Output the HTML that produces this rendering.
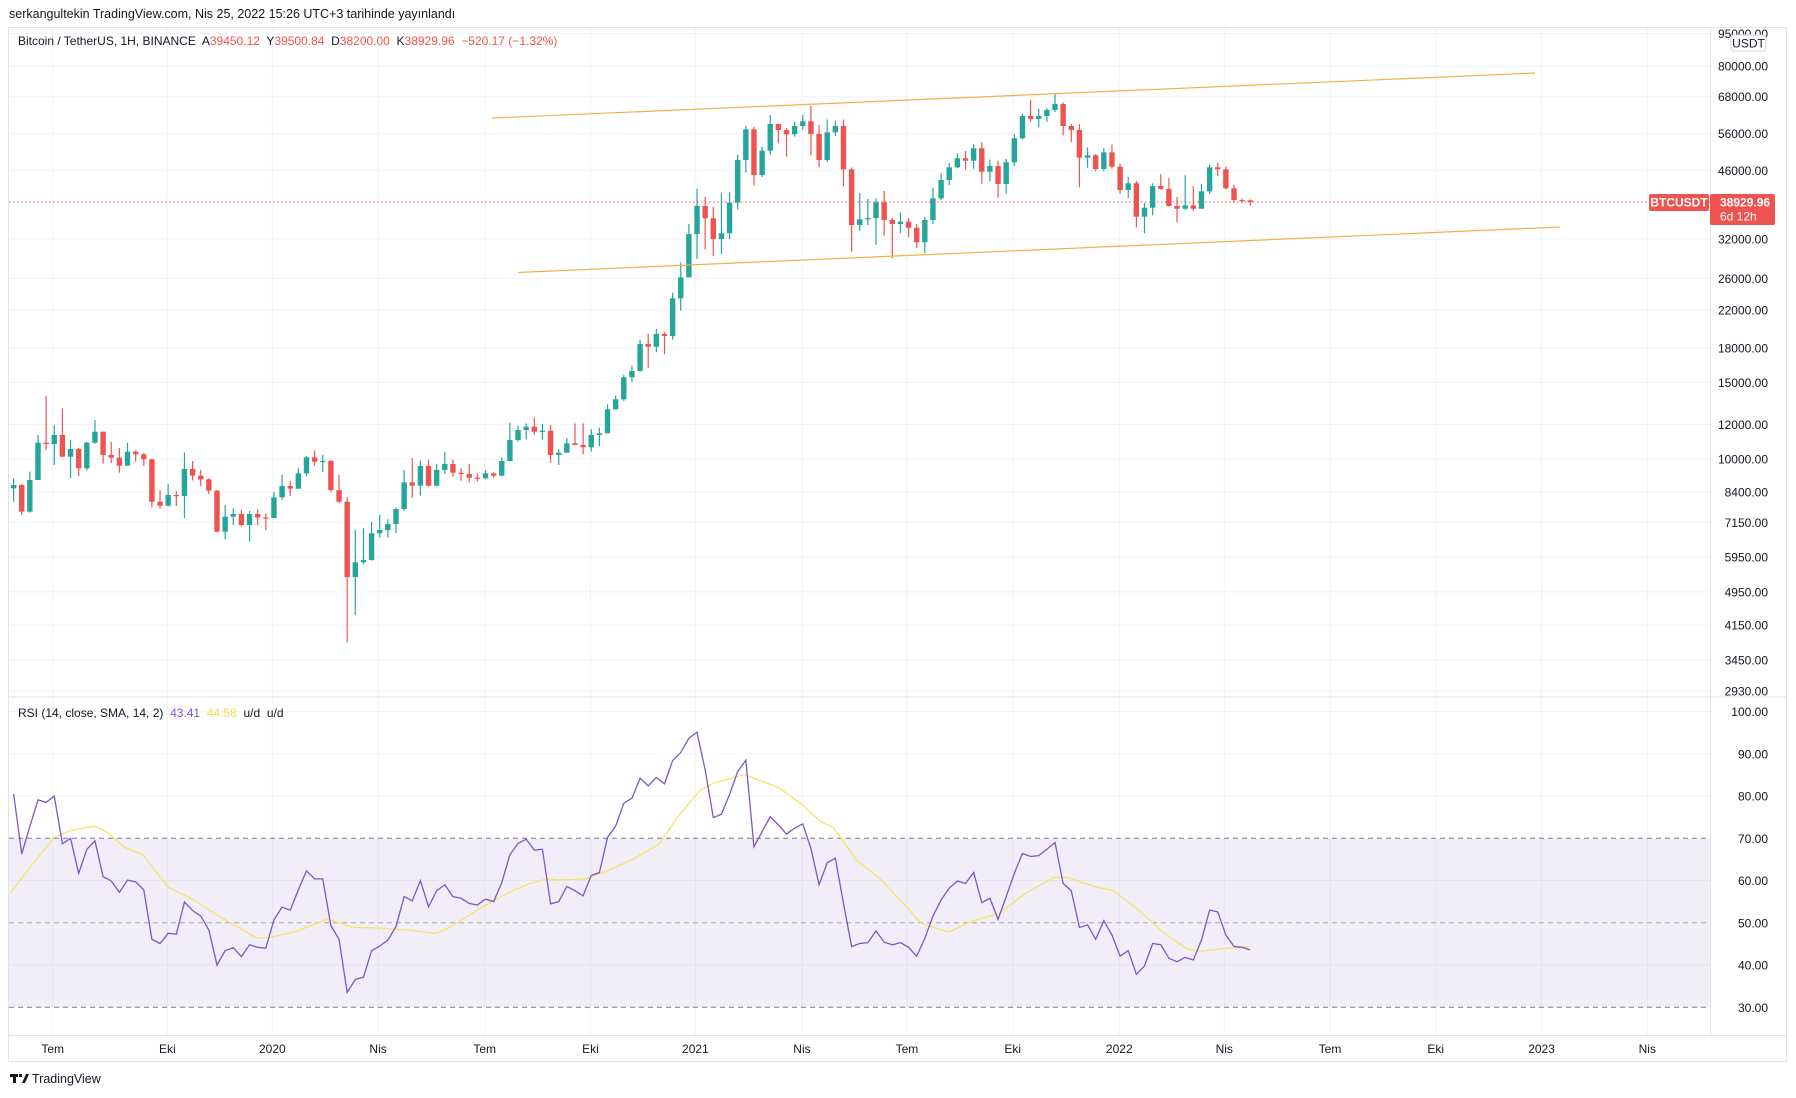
<!DOCTYPE html>
<html><head><meta charset="utf-8"><style>
html,body{margin:0;padding:0;background:#fff;}
svg{display:block;font-family:"Liberation Sans",sans-serif;}
.pre{white-space:pre;}
</style></head><body>
<svg id="chart" width="1796" height="1098" viewBox="0 0 1796 1098" xmlns="http://www.w3.org/2000/svg">
<rect x="0" y="0" width="1796" height="1098" fill="#ffffff"/>
<text x="9" y="18" font-size="12.5" fill="#131722">serkangultekin TradingView.com, Nis 25, 2022 15:26 UTC+3 tarihinde yayınlandı</text>
<rect x="8.5" y="27.5" width="1778" height="1034" fill="none" stroke="#e0e3eb"/>
<g id="grid"></g>
<rect x="9" y="838.3" width="1701" height="169" fill="#7e57c2" fill-opacity="0.1"/>
<g id="rsilevels"></g>
<g id="candles"></g>
<g id="channel"></g>
<g id="rsi"></g>
<line x1="9" y1="202" x2="1710" y2="202" stroke="#ef5350" stroke-width="1" stroke-dasharray="1.5,2.5"/>
<line x1="9" y1="697" x2="1786" y2="697" stroke="#e0e3eb"/>
<line x1="1710.5" y1="28" x2="1710.5" y2="1035" stroke="#e0e3eb"/>
<line x1="9" y1="1035.5" x2="1786" y2="1035.5" stroke="#e0e3eb"/>
<g id="axes"></g>
<rect x="1731" y="35" width="35" height="16" rx="3" fill="#fff" stroke="#d1d4dc"/>
<text x="1748.5" y="47.5" font-size="12" text-anchor="middle" fill="#131722">USDT</text>
<rect x="1649" y="194" width="60" height="17" rx="2" fill="#ef5350"/>
<text x="1679" y="206.5" font-size="12" font-weight="bold" text-anchor="middle" fill="#fff">BTCUSDT</text>
<rect x="1710" y="194" width="65" height="31" rx="2" fill="#ef5350"/>
<text x="1720" y="206.5" font-size="12" font-weight="bold" fill="#fff">38929.96</text>
<text x="1720" y="220.5" font-size="12" fill="#fff">6d 12h</text>
<text class="pre" xml:space="preserve" x="18" y="45" font-size="12" fill="#131722">Bitcoin / TetherUS, 1H, BINANCE  A<tspan fill="#ef5350">39450.12</tspan>  Y<tspan fill="#ef5350">39500.84</tspan>  D<tspan fill="#ef5350">38200.00</tspan>  K<tspan fill="#ef5350">38929.96</tspan>  <tspan fill="#ef5350">−520.17 (−1.32%)</tspan></text>
<text class="pre" xml:space="preserve" x="18" y="717" font-size="12" fill="#131722">RSI (14, close, SMA, 14, 2)  <tspan fill="#7e57c2">43.41</tspan>  <tspan fill="#f5dc4f">44.58</tspan>  u/d  u/d</text>
<g>
<rect x="10" y="1074" width="8" height="3" fill="#131722"/><rect x="13" y="1074" width="3" height="9" fill="#131722"/>
<rect x="19" y="1074" width="3" height="3" fill="#131722"/><polygon points="22,1083 26,1074 29,1074 25,1083" fill="#131722"/>
<text x="32" y="1083" font-size="12.5" fill="#131722">TradingView</text>
</g>
</svg>
<script>
const closes=[8714,7567,8948,10902,10825,11354,10122,10543,9520,10902,11556,10214,10069,9653,10395,10250,9984,7977,7811,8265,8221,9484,9155,8978,8455,6807,7370,7475,7053,7475,7342,7320,8165,8668,8547,9268,10090,9858,9900,8480,7977,5355,5790,5860,6750,6868,7090,7675,8840,8683,9636,8683,9436,9739,9302,9236,9057,9030,9268,9155,9895,11058,11658,11865,11553,11615,10214,10339,10866,10769,10638,11354,11457,13008,13717,15408,15932,18377,18118,19375,19170,23400,26150,32880,38140,35740,32030,33010,38810,48650,57220,44940,51100,58840,57020,55730,58240,59700,55840,48650,56330,58240,46310,34490,35540,35790,38890,35420,34670,35110,34000,31480,35420,39720,43760,46800,49090,48460,51760,45720,47120,42850,48070,54570,61400,60440,61400,63400,65420,58240,57020,49240,49880,46380,50660,46970,41500,43010,36040,37800,42390,41730,38140,37590,38270,37590,41210,46800,46310,41880,39360,39280,38930];
const highs=[9030,8750,9351,11354,13950,11970,13070,11058,10600,10960,12290,11556,10960,10600,10900,10470,10330,10010,8480,8750,8440,10350,9890,9450,9030,8480,7830,7700,7640,7600,7670,7500,8400,9200,8900,9520,10160,10470,10230,9950,9200,8165,6870,6930,7180,7450,7270,7740,9440,10050,9920,9970,9740,10390,9970,9520,9740,9270,9440,9320,10090,12130,11920,12080,12470,12040,11970,10530,11180,12080,12080,11700,11800,13350,14000,15600,16400,18800,19400,19900,19600,24100,28300,34700,41800,40000,38000,40900,41000,50000,58240,58000,52200,61700,58600,57600,59600,61800,64800,58540,60300,59900,60300,46800,40830,39600,39700,41290,35800,36800,35800,34700,36000,42000,45300,47900,50400,51000,52900,53400,48800,48500,48900,55800,62200,66900,63800,64000,69000,66000,58800,58800,52000,50200,51800,52800,47700,44500,43500,38800,43000,45100,44200,40000,44900,42400,42900,47500,48000,47000,42700,39700,39500];
const lows=[7977,7437,7530,8948,10490,9688,10090,9030,9140,9400,10830,9760,9790,9300,9630,9860,9630,7740,7690,7780,7800,7310,8920,8670,8300,6790,6540,7050,7000,6460,7050,6860,7310,8060,8220,8670,9110,9630,9340,8410,7930,3790,4380,5730,5840,6600,6600,6750,7610,8140,8240,8650,8650,9240,9120,8920,8840,8880,9000,9060,9120,9870,10960,11090,11350,11090,9810,9690,10350,10880,10250,10400,10700,11450,13200,13600,15000,15900,16200,17600,17400,18800,21900,27000,28800,30300,29300,29600,32000,37500,45480,42500,44500,50000,53200,49500,55000,57000,49900,46800,48100,55200,42300,29950,33480,34500,31030,32590,28920,33000,32300,30500,29700,34700,39300,42600,46600,46200,46400,42900,43500,39800,40700,47100,54200,59600,57800,59500,62700,55400,53500,42100,46700,45800,45800,46500,40700,39800,34080,33010,36300,41600,38000,35000,37400,37200,37700,40600,44700,41600,38800,38800,38200];
const firstOpen=8564;
const rsiVals=[80.5,66.3,72.8,79.1,78.5,80.0,68.7,70.0,61.7,67.4,69.4,60.9,59.9,57.2,60.1,59.7,57.8,46.1,45.1,47.5,47.3,54.9,52.9,51.6,48.3,40.0,43.4,44.1,42.0,44.8,44.2,44.0,50.7,53.7,53.0,57.8,62.3,60.4,60.4,49.3,46.1,33.5,36.6,37.1,43.4,44.5,45.9,49.1,56.2,55.2,60.0,53.8,57.6,59.0,56.2,55.8,54.6,54.2,55.6,55.0,59.5,66.1,68.8,69.8,67.2,67.4,54.5,55.0,58.6,57.6,56.4,61.2,61.9,70.2,72.9,78.3,79.5,84.2,82.4,84.4,82.9,88.4,90.3,93.7,95.1,86.2,74.9,75.7,80.4,85.8,88.5,68.0,71.6,75.1,73.2,71.0,72.4,73.4,67.6,59.0,64.2,65.3,54.6,44.4,45.1,45.3,48.1,45.4,44.8,45.3,44.2,42.1,46.3,51.6,55.4,58.2,59.9,59.3,61.9,54.8,55.8,50.8,56.2,61.7,66.4,65.7,65.9,67.4,69.0,59.3,57.6,48.9,49.5,46.1,50.5,47.1,42.1,43.4,37.8,39.8,45.1,44.8,41.6,40.8,41.8,41.2,45.9,53.0,52.6,47.1,44.4,44.2,43.6];
const smaIdx=[0.65,3.28,6.0,8.1,11.0,12.5,14.7,16.9,20.0,23.0,26.1,30.9,32.7,35.8,39.6,42.7,45.7,49.3,52.9,54.6,58.2,61.7,64.3,66.5,67.96,71.3,73.6,77.0,80.4,82.6,85.4,87.1,90.8,95.0,97.9,100.1,101.8,104.6,107.5,110.8,112.5,115.9,118.8,122.1,125.5,128.9,130.6,134.0,136.2,139.1,142.5,145.3,147.0,150.3,152.9];
const smaVals=[57.1,63.8,70.2,71.9,72.9,71.4,67.8,66.1,58.4,55.6,51.7,46.4,46.6,48.0,50.9,48.9,48.8,48.3,47.5,48.9,53.3,57.0,59.2,60.4,60.1,60.4,62.0,64.9,68.7,75.0,81.4,83.1,85.1,82.0,78.0,74.1,72.5,64.8,60.4,53.7,49.9,47.8,50.4,52.2,57.1,60.8,60.7,58.5,57.6,53.3,47.4,43.8,43.3,44.0,44.4];
const priceTicks=[95000,80000,68000,56000,46000,32000,26000,22000,18000,15000,12000,10000,8400,7150,5950,4950,4150,3450,2930];
const rsiTicks=[100,90,80,70,60,50,40,30];
const timeLabels=["Tem","Eki","2020","Nis","Tem","Eki","2021","Nis","Tem","Eki","2022","Nis","Tem","Eki","2023","Nis"];
const timeLabelIdx=[4.8,18.9,31.8,44.8,57.9,70.9,83.8,96.9,109.8,122.8,135.9,148.8,161.8,174.8,187.8,200.8];
const upperChannel=[[58.8,60750],[187,77080]];
const lowerChannel=[[62,26830],[190.1,34130]];

const NS="http://www.w3.org/2000/svg";
function xS(i){return 13.6+8.136*i;}
function yP(p){return 459-189*Math.log(p/10000);}
function yR(v){return 838.3+(70-v)*4.225;}
function mk(tag,attrs,parent){const e=document.createElementNS(NS,tag);for(const k in attrs)e.setAttribute(k,attrs[k]);parent.appendChild(e);return e;}

const grid=document.getElementById('grid');
priceTicks.forEach(p=>{const l=mk('line',{x1:9,x2:1710,y1:yP(p),y2:yP(p),stroke:'#f0f3fa'},grid);

});
[100,90,80,60,40].forEach(v=>{const l=mk('line',{x1:9,x2:1710,y1:yR(v),y2:yR(v),stroke:'#f0f3fa'},grid);

});
timeLabelIdx.forEach(i=>{const x=xS(i);if(x>1709)return;const l=mk('line',{x1:x,x2:x,y1:28,y2:1035,stroke:'#f0f3fa'},grid);

});

const rl=document.getElementById('rsilevels');
[[70,'#787b86'],[50,'#a3a6af'],[30,'#787b86']].forEach(a=>{const l=mk('line',{x1:9,x2:1710,y1:yR(a[0]),y2:yR(a[0]),stroke:a[1],'stroke-dasharray':'5,4'},rl);

});

const cg=document.getElementById('candles');
closes.forEach((c,i)=>{
 const o=i===0?firstOpen:closes[i-1];
 const h=Math.max(highs[i],o,c), lo=Math.min(lows[i],o,c);
 const col=c>=o?'#26a69a':'#ef5350';
 const x=xS(i);
 const g=mk('g',{},cg);
 
 
 mk('line',{x1:x,x2:x,y1:yP(h),y2:yP(lo),stroke:col,'stroke-width':1.2},g);
 const t=Math.min(yP(o),yP(c)),b=Math.max(yP(o),yP(c));
 mk('rect',{x:x-2.7,y:t,width:5.4,height:Math.max(1.2,b-t),fill:col},g);
});

const ch=document.getElementById('channel');
[[upperChannel,'upper-channel-line'],[lowerChannel,'lower-channel-line']].forEach(a=>{
 const l=mk('line',{x1:xS(a[0][0][0]),y1:yP(a[0][0][1]),x2:xS(a[0][1][0]),y2:yP(a[0][1][1]),stroke:'#f5b041','stroke-width':1.2},ch);
 
 
});

const rg=document.getElementById('rsi');
const sp=mk('polyline',{points:smaIdx.map((k,j)=>xS(k-1)+','+yR(smaVals[j])).join(' '),fill:'none',stroke:'#f5e463','stroke-width':1.3},rg);


const rp=mk('polyline',{points:rsiVals.map((v,i)=>xS(i)+','+yR(v)).join(' '),fill:'none',stroke:'#7e57c2','stroke-width':1.3},rg);



const ax=document.getElementById('axes');
priceTicks.forEach(p=>{const t=mk('text',{x:1768,y:yP(p)+4.5,'font-size':12,'text-anchor':'end',fill:'#131722'},ax);t.textContent=p.toFixed(2);

});
rsiTicks.forEach(v=>{const t=mk('text',{x:1768,y:yR(v)+4.5,'font-size':12,'text-anchor':'end',fill:'#131722'},ax);t.textContent=v.toFixed(2);

});
timeLabels.forEach((s,j)=>{const t=mk('text',{x:xS(timeLabelIdx[j]),y:1053,'font-size':12,'text-anchor':'middle',fill:'#131722'},ax);t.textContent=s;

});
</script>
</body></html>
